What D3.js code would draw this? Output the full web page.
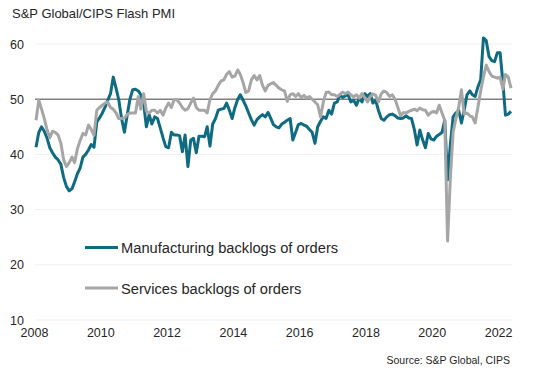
<!DOCTYPE html>
<html>
<head>
<meta charset="utf-8">
<script src="https://cdn.jsdelivr.net/npm/d3@7"></script>
<style>
  body { margin: 0; background: #fff; }
  svg { display: block; font-family: Arial, "Liberation Sans", sans-serif; }
</style>
</head>
<body>
<div id="chart"></div>
<script>
// monthly readings, first point Jan 2008
const manufacturing = [
  41.3, 44, 45, 44.2, 43, 41.2, 40.3, 39.5, 39, 38.2, 35.8, 34.2,
  33.4, 33.8, 35, 36.5, 37.5, 39.5, 40, 40.8, 41.8, 41.3, 45.9, 46.6,
  47.5, 48.6, 49.8, 51, 54, 52, 49.9, 46.5, 44, 47, 50, 51.7,
  51.8, 51.5, 50.8, 49.3, 45, 47.2, 45.5, 46.8, 46.5, 44.8, 43, 41.4,
  41.2, 44, 43.5, 43.5, 43.4, 40.5, 43.5, 37.8, 42.6, 42.9, 40.3, 43.3,
  43.3, 43.2, 45, 41.5, 45.5, 46.5, 48, 48.2, 48.3, 49.3, 48, 46.5,
  48.5, 50, 50.8, 49.8, 48.8, 47.5, 46.3, 45.3, 46.3, 46.8, 47.2, 46.8,
  47.6, 46.5, 45.4, 45, 44.8, 45.5, 45.8, 46.2, 46.5, 42.6, 44, 45.4,
  45.6, 45.3, 45.1, 44.5, 44, 42, 45, 46, 46.8, 46.5, 48, 47.3,
  49.3, 49.5, 50.8, 50.3, 50.6, 50.8, 49.5, 49.8, 48.9, 50.2, 49.5, 51,
  50.5, 51, 49.3, 49.8, 48, 46.5, 46.2, 46.8, 47.2, 47.3, 47, 46.6,
  46.5, 46.6, 47, 46.6, 46.5, 44.5, 41.7, 44.4, 42.6, 41.2, 43.8, 42.8,
  42.6, 43.3, 43.6, 44, 46.2, 35.4, 41.7, 46.8, 47.5, 48, 45.7, 48,
  50.8, 51.5, 50.8, 50.5, 52.2, 53.5, 61.1, 60.6, 57.7, 57, 56.8, 58.4,
  58.4, 53, 47.1, 47.3, 47.8
];

const services = [
  46.2, 49.8, 48.3, 46.5, 44.5, 43, 44.2, 44, 43.5, 42, 39, 37.8,
  38.5, 39.5, 38.5, 41, 42.5, 43.8, 43.5, 45.3, 44.5, 43.5, 48, 48.5,
  48.9, 49.3, 49.5, 48.5, 48.2, 47.5, 46.5, 46.5, 46.6, 47.2, 47.5, 47.5,
  47.5, 50.5, 48.2, 51, 47.8, 47.5, 48, 48, 47.5, 48, 47.1, 48.4,
  49.3, 48.5, 49.9, 49.9, 49.3, 48.5, 48, 48.3, 49.3, 50.2, 48.5, 48,
  48, 48, 47.5, 49.9, 51, 51.5, 52.5, 53.3, 53.5, 54.5, 55, 54,
  54.2, 55.3, 54.5, 53, 51.2, 51.5, 53.5, 54.3, 53.5, 54.3, 52.5, 51.5,
  52.5, 52.8, 53, 52.5, 52, 51.7, 51.5, 49.6, 50.8, 51, 50.5, 51,
  50.3, 50.7, 50.2, 50.5, 50, 49.5, 49, 46.8, 49.5, 51.2, 51.3, 50.8,
  50.8, 50.5, 50.8, 51.3, 51, 51.3, 50.8, 50.4, 50.8, 50.2, 51, 50.3,
  49.5, 50.5, 51, 50.7, 49.5, 51, 51.5, 51.2, 50.5, 50.8, 50, 48.5,
  47, 47.6, 47.5, 47.8, 48, 48.2, 47.9, 48.4, 48.1, 48, 47.1, 47.6,
  47.8, 47.5, 48.9, 47.5, 46.2, 24.3, 35.4, 44, 46.5, 48.5, 51.7, 47.3,
  47.5, 47, 46.8, 45.7, 48.5, 51.5, 54, 56.2, 55, 54.2, 54, 53.8,
  54, 51.8, 54.5, 54, 52
];

const yTicks = [10, 20, 30, 40, 50, 60];
const xTickYears = [2008, 2010, 2012, 2014, 2016, 2018, 2020, 2022];
const seriesNames = ['Manufacturing backlogs of orders', 'Services backlogs of orders'];

const width = 534;
const height = 373;
const start = new Date(2008, 0, 1);
const months = manufacturing.map((_, i) => d3.timeMonth.offset(start, i));

const x = d3.scaleTime()
  .domain([months[0], months[months.length - 1]])
  .range([36, 511]);

const y = d3.scaleLinear()
  .domain([10, 60])
  .range([320, 44]);

const svg = d3.select('#chart').append('svg')
  .attr('width', width)
  .attr('height', height);

svg.append('rect')
  .attr('width', width)
  .attr('height', height)
  .attr('fill', '#fff');

// title
svg.append('text')
  .attr('x', 12)
  .attr('y', 18)
  .attr('font-size', 13)
  .attr('fill', '#262626')
  .text('S&P Global/CIPS Flash PMI');

// gridlines
svg.append('g')
  .selectAll('line')
  .data(yTicks)
  .enter().append('line')
  .attr('x1', 35)
  .attr('x2', 512)
  .attr('y1', (d) => y(d))
  .attr('y2', (d) => y(d))
  .attr('stroke', (d) => (d === 50 ? '#7f7f7f' : '#f0f0f0'))
  .attr('stroke-width', (d) => (d === 50 ? 1.5 : 1));

// y labels
svg.append('g')
  .selectAll('text')
  .data(yTicks)
  .enter().append('text')
  .attr('x', 24)
  .attr('y', (d) => y(d))
  .attr('dy', '0.36em')
  .attr('text-anchor', 'end')
  .attr('font-size', 12.5)
  .attr('fill', '#262626')
  .text((d) => d);

// x labels
svg.append('g')
  .selectAll('text')
  .data(xTickYears)
  .enter().append('text')
  .attr('x', (d) => x(new Date(d, 0, 1)) - 1.5)
  .attr('y', 337)
  .attr('text-anchor', 'middle')
  .attr('font-size', 12.5)
  .attr('fill', '#262626')
  .text((d) => d);

const line = d3.line()
  .x((d, i) => x(months[i]))
  .y((d) => y(d));

const colours = ['#0f6b82', '#a6a6a6'];

svg.append('path')
  .datum(manufacturing)
  .attr('d', line)
  .attr('fill', 'none')
  .attr('stroke', colours[0])
  .attr('stroke-width', 3)
  .attr('stroke-linejoin', 'round');

svg.append('path')
  .datum(services)
  .attr('d', line)
  .attr('fill', 'none')
  .attr('stroke', colours[1])
  .attr('stroke-width', 3)
  .attr('stroke-linejoin', 'round');

// legend
const legend = svg.append('g')
  .selectAll('g')
  .data(seriesNames)
  .enter().append('g')
  .attr('transform', (d, i) => `translate(85, ${247.5 + i * 40.5})`);

legend.append('line')
  .attr('x1', 0)
  .attr('x2', 33)
  .attr('stroke', (d, i) => colours[i])
  .attr('stroke-width', 3);

legend.append('text')
  .attr('x', 36)
  .attr('y', 5.5)
  .attr('font-size', 14.7)
  .attr('fill', '#262626')
  .text((d) => d);

// source
svg.append('text')
  .attr('x', 510)
  .attr('y', 364)
  .attr('text-anchor', 'end')
  .attr('font-size', 10.5)
  .attr('fill', '#262626')
  .text('Source: S&P Global, CIPS');
</script>
</body>
</html>
